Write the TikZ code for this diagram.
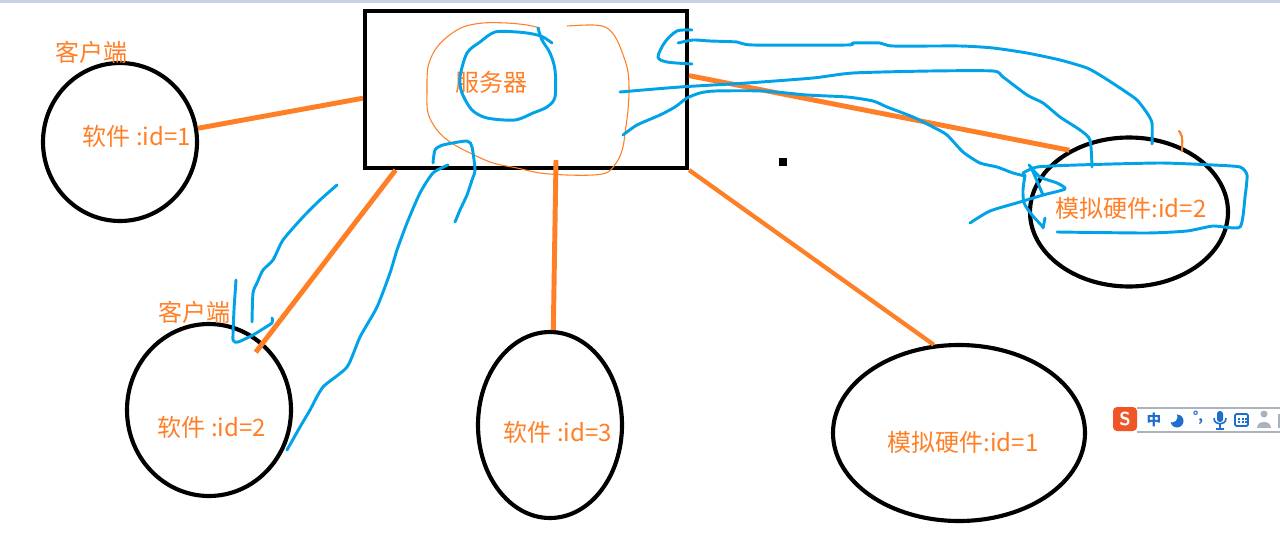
\documentclass[tikz,border=0pt]{standalone}
\usepackage{fontspec}
\newfontfamily\cjk{Noto Sans CJK SC}
\usetikzlibrary{shapes.geometric,calc}
\definecolor{pOrange}{RGB}{255,127,39}
\definecolor{pBlue}{RGB}{0,162,232}
\definecolor{topBar}{RGB}{200,210,228}
\definecolor{imeBlue}{RGB}{30,110,205}
\definecolor{imeOrange}{RGB}{240,85,40}
\definecolor{imeGray}{RGB}{170,178,190}
\begin{document}
\begin{tikzpicture}[x=0.75pt,y=-0.75pt,
  shapeline/.style={draw=black,line width=3.1pt,inner sep=0pt},
  ovalnode/.style={shapeline,ellipse},
  conn/.style={draw=pOrange,line width=3.7pt},
  scribble/.style={draw=pBlue,line width=2.2pt,line cap=round,line join=round},
  thinloop/.style={draw=pOrange,line width=0.8pt},
  lbl/.style={text=pOrange,font=\cjk\fontsize{18}{20}\selectfont,inner sep=0pt}]
\useasboundingbox (0,0) rectangle (1280,542);
\fill[white] (0,0) rectangle (1280,542);
\fill[topBar] (0,0) rectangle (1280,3);

% shapes
\node[shapeline,rectangle,minimum width=241.5pt,minimum height=117.75pt] (srv) at (526,89.5) {};
\node[ovalnode,minimum width=115.5pt,minimum height=118.5pt] (c1) at (120,142) {};
\node[ovalnode,minimum width=123pt,minimum height=129pt] (c2) at (209,410) {};
\node[ovalnode,minimum width=108pt,minimum height=139.5pt] (c3) at (550,425) {};
\node[ovalnode,minimum width=189pt,minimum height=132pt] (c4) at (959,433) {};
\node[ovalnode,minimum width=148.5pt,minimum height=111.75pt] (c5) at (1129,212) {};

% labels
\node[lbl] (tk1) at (91,52) {客户端};
\node[lbl] (tsrv) at (491,82) {服务器};
\node[lbl] (t1) at (137,136) {软件 :id=1};
\node[lbl] (tk2) at (194,312) {客户端};
\node[lbl] (t2) at (212,427) {软件 :id=2};
\node[lbl] (t3) at (558,432) {软件 :id=3};
\node[lbl] (t4) at (963,442) {模拟硬件:id=1};
\node[lbl] (t5) at (1131,208) {模拟硬件:id=2};

% orange connectors
\draw[conn] (c1.10) -- ($(srv.north west)!0.554!(srv.south west)$);
\draw[conn] ($(srv.south west)!0.1!(srv.south east)$) -- ($(c2.center)!0.86!(c2.51)$);
\draw[conn] ($(srv.south)+(30,-10)$) -- (c3.88);
\draw[conn,line width=3.2pt] (srv.south east) -- (c4.106);
\draw[conn] ($(srv.north east)!0.414!(srv.south east)$) -- (c5.134);

% small black square
\fill[black] (779,158) rectangle (787,166);

% small orange tick on right ellipse
\draw[pOrange,line width=1.6pt,line cap=round] plot[smooth] coordinates {(1179,131) (1182,137) (1182,151)};

% thin orange loop around server label
\draw[thinloop] plot[smooth,tension=0.55] coordinates {(567,26) (593,25) (607,28) (617,40) (627,67) (629,87) (628,110) (625,133) (623,147) (618,160) (608,172) (593,175) (567,175) (540,173) (517,168) (493,163) (470,153) (450,142) (437,130) (428,113) (427,90) (428,67) (435,50) (447,37) (463,27) (483,23) (507,23) (527,25) (540,28)};

% blue scribbles
\draw[scribble] plot[smooth,tension=0.5] coordinates {(538,28) (542,40) (550,53) (555,70) (555,97) (547,107) (533,113) (515,120) (487,118) (472,110) (462,93) (460,77) (467,53) (480,42) (495,32) (517,32) (533,34) (543,37) (552,43)};
\draw[scribble] plot[smooth,tension=0.5] coordinates {(692,30) (677,31) (665,42) (658,57) (667,62) (692,64)};
\draw[scribble] plot[smooth,tension=0.4] coordinates {(678,43) (693,40) (710,41) (737,42) (753,45) (847,45) (853,43) (880,43) (893,46) (960,46) (993,48) (1027,53) (1060,60) (1087,68) (1103,77) (1123,90) (1137,100) (1147,113) (1152,123) (1152,144)};
\draw[scribble] plot[smooth,tension=0.4] coordinates {(620,92) (680,87) (747,83) (813,78) (853,73) (930,71) (993,71) (1003,77) (1027,95) (1043,103) (1060,117) (1080,130) (1090,140) (1092,167)};
\draw[scribble] plot[smooth,tension=0.4] coordinates {(623,135) (637,125) (660,115) (675,107) (687,98) (700,93) (715,91) (763,91) (807,95) (847,97) (873,101) (887,107) (913,117) (933,127) (947,135) (963,152) (980,163) (997,167) (1013,173) (1025,176)};
\draw[scribble] plot[smooth,tension=0.35] coordinates {(1023,173) (1037,167) (1077,165) (1160,163) (1213,165) (1240,167) (1247,175) (1245,197) (1240,227) (1213,226) (1187,231) (1147,233) (1057,232)};
\draw[scribble] plot[smooth,tension=0.4] coordinates {(1025,175) (1023,190) (1024,203) (1032,215) (1043,227)};
\draw[scribble] (1045,218) -- (1043,228);
\draw[scribble] plot[smooth,tension=0.4] coordinates {(1029,165) (1040,177) (1057,183) (1065,189) (1043,195) (1020,202) (990,211) (970,223)};
\draw[scribble] (1031,167) -- (1043,195);
% left side scribbles
\draw[scribble] plot[smooth,tension=0.4] coordinates {(433,163) (435,150) (443,145) (467,141) (472,147) (475,170) (472,180) (467,195) (460,210) (455,222)};
\draw[scribble] plot[smooth,tension=0.4] coordinates {(448,165) (433,173) (420,193) (407,223) (397,250) (390,273) (377,307) (360,337) (347,367) (323,387) (310,410) (300,427) (287,450)};
\draw[scribble] plot[smooth,tension=0.4] coordinates {(337,185) (320,200) (303,217) (283,240) (273,260) (263,270) (257,283) (253,293) (252,322)};
\draw[scribble] plot[smooth,tension=0.3] coordinates {(236,280) (234,310) (233,340) (238,342) (253,335) (272,323) (272,318)};

% IME toolbar (screenshot artefact)
\draw[imeGray,line width=0.8pt] (1137,408) -- (1280,408);
\draw[imeGray,line width=0.8pt] (1137,432) -- (1280,432);
\fill[imeOrange,rounded corners=3pt] (1113,407) rectangle (1137,431);
\node[text=white,font=\sffamily\bfseries\fontsize{14}{14}\selectfont,inner sep=0pt] (imeS) at (1125,419) {S};
\node[text=imeBlue,font=\cjk\bfseries\fontsize{11}{11}\selectfont,inner sep=0pt] (imeZ) at (1154,420) {中};
\fill[imeBlue] (1177,421) circle (6.5);
\fill[white] (1172,417) circle (5.5);
\node[text=imeBlue,font=\cjk\bfseries\fontsize{10}{10}\selectfont,inner sep=0pt] (imeP) at (1198,418) {°,};
\fill[imeBlue,rounded corners=2pt] (1217,411) rectangle (1223,422);
\draw[imeBlue,line width=1.2pt] (1214,418) .. controls (1214,426) and (1226,426) .. (1226,418);
\draw[imeBlue,line width=1.2pt] (1220,424) -- (1220,429) (1216,429) -- (1224,429);
\draw[imeBlue,line width=1.3pt,rounded corners=1pt] (1235,414) rectangle (1248,426);
\foreach \kx in {1238,1241.5,1245} {\fill[imeBlue] (\kx,417.5) rectangle ++(2,2); \fill[imeBlue] (\kx,421) rectangle ++(2,2);}
\fill[imeGray] (1264,414) circle (3.5);
\fill[imeGray] (1257,428) .. controls (1257,420) and (1271,420) .. (1271,428) -- cycle;
\fill[imeGray] (1278,414) rectangle (1280,428);
\end{tikzpicture}
\end{document}
